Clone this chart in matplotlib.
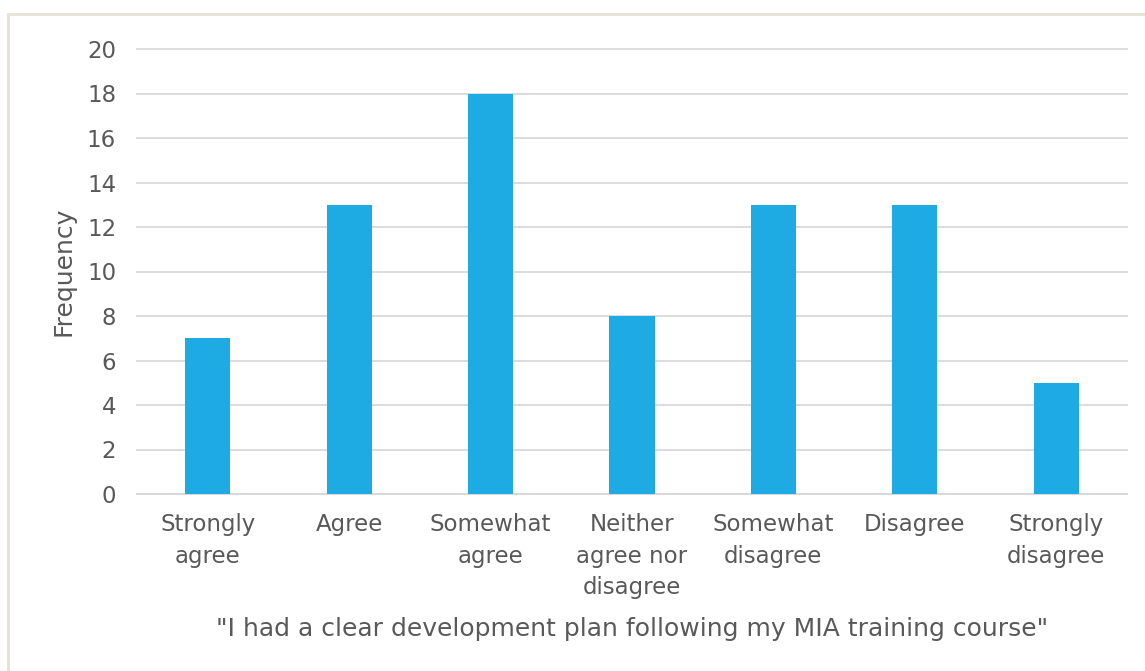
import matplotlib.pyplot as plt
from matplotlib.patches import Rectangle

categories = ["Strongly\nagree", "Agree", "Somewhat\nagree", "Neither\nagree nor\ndisagree",
              "Somewhat\ndisagree", "Disagree", "Strongly\ndisagree"]
frequency = [7, 13, 18, 8, 13, 13, 5]
yticks = [0, 2, 4, 6, 8, 10, 12, 14, 16, 18, 20]

text_color = "#595959"
plt.rcParams['font.family'] = ['DejaVu Sans']

fig = plt.figure(figsize=(11.45, 6.71), dpi=100)
ax = fig.add_axes([137 / 1145, 1 - 494 / 671, (1127 - 137) / 1145, (494 - 49) / 671])

# chart border like the Excel chart area
fig.patches.append(Rectangle((8 / 1145, -0.1), 1.2, 1 - 14 / 671 + 0.1, transform=fig.transFigure,
                             fill=False, edgecolor="#E6E2D6", linewidth=2))

x_pos = list(range(len(categories)))
ax.bar(x_pos, frequency, width=0.32, color="#1EAAE2", zorder=3)

ax.set_xlim(-0.5, len(categories) - 0.5)
ax.set_ylim(0, 20)
ax.set_yticks(yticks)
ax.grid(axis='y', color="#D9D9D9", linewidth=1.3, zorder=0)
for line in ax.get_ygridlines():
    line.set_clip_on(False)
for s in ['top', 'right', 'left']:
    ax.spines[s].set_visible(False)
ax.spines['bottom'].set_color("#D9D9D9")
ax.spines['bottom'].set_linewidth(1.3)
ax.tick_params(axis='both', length=0, colors=text_color, labelsize=16.5)
ax.tick_params(axis='y', pad=15)
ax.tick_params(axis='x', pad=14)
ax.set_xticks(x_pos)
ax.set_xticklabels(categories, linespacing=1.45)

ax.set_ylabel("Frequency", fontsize=18, color=text_color, labelpad=8)
ax.set_xlabel('"I had a clear development plan following my MIA training course"',
              fontsize=18, color=text_color, labelpad=13)

fig.savefig("out.png", dpi=100)
